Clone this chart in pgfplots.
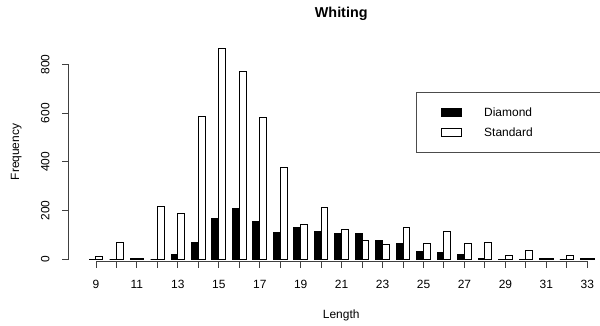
\documentclass[border=0pt]{standalone}
\usepackage{pgfplots}
\pgfplotsset{compat=1.18}
\usepackage{pgfplotstable}
\usepackage{fontspec}
\setmainfont{Liberation Sans}
\pgfplotstableread{
len dia std
9 0 11
10 0 71
11 4 3
12 0 218
13 21 190
14 71 586
15 169 865
16 209 772
17 156 582
18 108 375
19 131 143
20 116 213
21 104 123
22 107 79
23 76 60
24 63 130
25 32 63
26 27 116
27 18 63
28 4 70
29 1 14
30 0 38
31 4 3
32 0 16
33 5 2
}\data
\begin{document}
\begin{tikzpicture}[x=1bp,y=1bp]
\useasboundingbox (0,0) rectangle (600,325);
\begin{axis}[
  at={(68.5bp,63.7bp)}, anchor=south west,
  scale only axis, width=530.5bp, height=221.3bp,
  xmin=7.657, xmax=33.573, ymin=-8.2, ymax=899.9,
  clip=false,
  axis x line*=bottom, axis y line*=left,
  axis line style={draw=none},
  xtick={9,...,33},
  xticklabels={9,,11,,13,,15,,17,,19,,21,,23,,25,,27,,29,,31,,33},
  ytick={0,200,400,600,800},
  /pgf/number format/assume math mode=true,
  major tick length=0pt,
  ticklabel style={font=\fontsize{12}{14}\selectfont, inner sep=0pt},
  xticklabel style={yshift=-26.7bp, anchor=base},
  yticklabel style={xshift=-19bp, rotate=90, anchor=base},
  title={Whiting},
  title style={font=\fontsize{14.4}{16}\selectfont\bfseries, at={(0.5141,1.0755)}, anchor=base, inner sep=0pt},
  xlabel={Length},
  xlabel style={font=\fontsize{12}{14}\selectfont, at={(0.5141,-0.2607)}, anchor=base, inner sep=0pt},
  ylabel={Frequency},
  ylabel style={font=\fontsize{12}{14}\selectfont, at={(-0.0930,0.4939)}, anchor=base, rotate=0, inner sep=0pt},
  legend image code/.code={\draw[#1, line width=1bp] (0bp,-4.2bp) rectangle (20bp,4.2bp);},
  legend style={at={(axis cs:24.633,687.7)}, anchor=north west, draw=black!70, line width=1bp,
    inner xsep=24bp, inner ysep=15.7bp, row sep=10.4bp, column sep=22.7bp,
    font=\fontsize{12}{14}\selectfont,
    nodes={inner sep=0pt, text height=8.6bp, text depth=0bp}},
  legend cell align=left,
]
\addplot[ybar, bar width=0.3333, bar shift=0pt, fill=black, draw=black, line width=1bp]
  table[x expr=\thisrow{len}-1/6, y=dia] {\data};
\addlegendentry{\makebox[92.3bp][l]{Diamond}}
\addplot[ybar, bar width=0.3333, bar shift=0pt, fill=white, draw=black, line width=1bp]
  table[x expr=\thisrow{len}+1/6, y=std] {\data};
\addlegendentry{\makebox[92.3bp][l]{Standard}}
\end{axis}
% axis lines and tick marks (R style, detached)
\draw[black!75, line width=1bp] (96,63.7) -- (587.3,63.7);
\draw[black!75, line width=1bp] (68.5,65.7) -- (68.5,260.7);
\foreach \k in {0,...,24} {
  \draw[black!75, line width=1bp] ({96+\k*20.47},63.7) -- ({96+\k*20.47},56.7);
}
\foreach \k in {0,...,4} {
  \draw[black!75, line width=1bp] (68.5,{65.7+\k*48.75}) -- (61.5,{65.7+\k*48.75});
}
\end{tikzpicture}
\end{document}
